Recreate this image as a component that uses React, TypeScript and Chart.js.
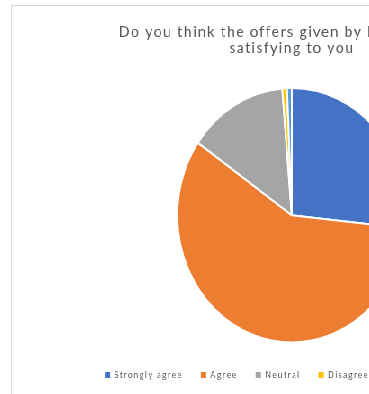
import React, { useEffect, useRef } from "react";
import { Chart, registerables } from "chart.js";
Chart.register(...registerables);

const categories = ["Strongly agree", "Agree", "Neutral", "Disagree", "Strongly disagree"];
const responses = [40, 87, 21, 1, 1];
const colors = ["#4472C4", "#ED7D31", "#A5A5A5", "#FFC000", "#5B9BD5"];
const titleLines = ["Do you think the offers given by Domino's are", "satisfying to you"];

const letterSpacingPlugin = {
  id: "letterSpacing",
  beforeLayout(chart: any) {
    chart.ctx.letterSpacing = "1.4px";
  },
  beforeDraw(chart: any) {
    chart.ctx.letterSpacing = "1.4px";
  },
};

export default function App() {
  const ref = useRef<HTMLCanvasElement>(null);
  useEffect(() => {
    const baseGen = (Chart as any).overrides.pie.plugins.legend.labels.generateLabels;
    const chart = new Chart(ref.current!, {
      type: "pie",
      data: {
        labels: categories,
        datasets: [
          {
            data: responses,
            backgroundColor: colors,
            borderColor: "#ffffff",
            borderWidth: 2,
            hoverOffset: 0,
          },
        ],
      },
      plugins: [letterSpacingPlugin],
      options: {
        animation: false,
        responsive: true,
        maintainAspectRatio: false,
        devicePixelRatio: 1,
        layout: { padding: { top: 0, left: 0, right: 0, bottom: 4.5 } },
        plugins: {
          title: {
            display: true,
            text: titleLines,
            color: "#595959",
            font: { family: "Lato", size: 16, weight: "normal", lineHeight: 0.97 },
            padding: { top: 18.5, bottom: 31.5 },
          },
          legend: {
            position: "bottom",
            labels: {
              boxWidth: 6,
              boxHeight: 6,
              padding: 20,
              color: "#595959",
              font: { family: "Lato", size: 9 },
              generateLabels: (c: any) =>
                baseGen(c).map((l: any) => ({ ...l, lineWidth: 0, strokeStyle: l.fillStyle })),
            },
            title: { display: true, text: "", font: { size: 7, lineHeight: 1 }, padding: 0 },
          },
          tooltip: { enabled: false },
        },
      } as any,
    });
    return () => chart.destroy();
  }, []);
  return (
    <div style={{ position: "fixed", left: 0, top: 0, width: 369, height: 394, overflow: "hidden", background: "#fff" }}>
      <div
        style={{
          position: "absolute",
          left: 11,
          top: 5,
          width: 624,
          height: 390,
          border: "1px solid #d9d9d9",
          boxSizing: "border-box",
          transform: "scaleX(0.9)",
          transformOrigin: "0 0",
        }}
      >
        <div style={{ position: "relative", width: "100%", height: "100%" }}>
          <canvas ref={ref} />
        </div>
      </div>
    </div>
  );
}
